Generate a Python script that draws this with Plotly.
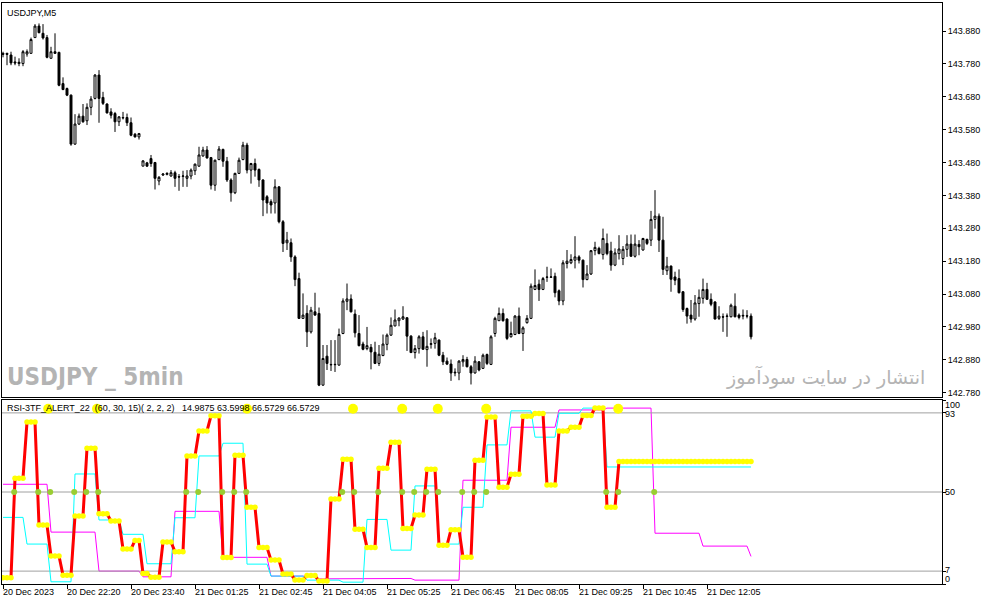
import numpy as np
import plotly.graph_objects as go

# ---------------- price data (USDJPY M5) ----------------
open_ = [
143.812, 143.812, 143.807, 143.786, 143.781, 143.781, 143.810, 143.812, 143.860, 143.895,
143.873, 143.860, 143.797, 143.817, 143.815, 143.720, 143.705, 143.685, 143.536, 143.597,
143.621, 143.607, 143.648, 143.675, 143.746, 143.678, 143.658, 143.634, 143.629, 143.604,
143.617, 143.617, 143.601, 143.566, 143.558, 143.469, 143.479, 143.492, 143.480, 143.424,
143.442, 143.444, 143.439, 143.449, 143.437, 143.438, 143.432, 143.439, 143.455, 143.469,
143.500, 143.518, 143.495, 143.411, 143.489, 143.520, 143.484, 143.427, 143.388, 143.447,
143.489, 143.533, 143.457, 143.477, 143.459, 143.427, 143.376, 143.361, 143.357, 143.406,
143.300, 143.236, 143.236, 143.193, 143.127, 143.006, 143.021, 142.965, 143.026, 143.021,
142.803, 142.891, 142.866, 142.865, 142.864, 142.960, 143.058, 143.065, 143.019, 142.960,
142.928, 142.914, 142.918, 142.903, 142.869, 142.893, 142.927, 142.955, 142.983, 142.999,
143.004, 143.008, 142.952, 142.902, 142.914, 142.950, 142.911, 142.927, 142.930, 142.940,
142.894, 142.876, 142.867, 142.840, 142.840, 142.874, 142.881, 142.859, 142.840, 142.874,
142.854, 142.896, 142.866, 142.960, 142.999, 143.021, 143.004, 142.950, 142.957, 143.013,
142.960, 142.993, 143.006, 143.094, 143.110, 143.094, 143.132, 143.131, 143.134, 143.090,
143.059, 143.173, 143.175, 143.183, 143.193, 143.183, 143.124, 143.141, 143.212, 143.219,
143.200, 143.234, 143.211, 143.168, 143.203, 143.188, 143.216, 143.232, 143.195, 143.231,
143.214, 143.246, 143.244, 143.307, 143.317, 143.244, 143.151, 143.165, 143.132, 143.127,
143.087, 143.036, 143.016, 143.004, 143.051, 143.067, 143.094, 143.064, 143.056, 143.006,
143.011, 143.012, 143.011, 143.043, 143.016, 143.013, 143.014, 143.013]

high = [
143.817, 143.814, 143.817, 143.802, 143.797, 143.822, 143.824, 143.860, 143.901, 143.903,
143.901, 143.868, 143.832, 143.873, 143.817, 143.739, 143.708, 143.687, 143.627, 143.629,
143.658, 143.660, 143.682, 143.749, 143.761, 143.695, 143.660, 143.645, 143.634, 143.621,
143.634, 143.629, 143.617, 143.570, 143.570, 143.487, 143.482, 143.503, 143.482, 143.439,
143.447, 143.450, 143.457, 143.455, 143.445, 143.455, 143.457, 143.462, 143.477, 143.528,
143.528, 143.530, 143.497, 143.489, 143.530, 143.522, 143.497, 143.432, 143.449, 143.495,
143.543, 143.540, 143.479, 143.492, 143.462, 143.429, 143.381, 143.368, 143.429, 143.408,
143.305, 143.269, 143.249, 143.198, 143.145, 143.082, 143.046, 143.041, 143.084, 143.039,
142.925, 142.925, 142.940, 142.940, 142.975, 143.067, 143.112, 143.079, 143.033, 143.016,
142.935, 142.980, 142.928, 142.935, 142.925, 142.957, 142.960, 143.009, 143.033, 143.009,
143.043, 143.009, 142.955, 142.925, 142.955, 142.965, 142.970, 142.945, 142.962, 142.942,
142.904, 142.887, 142.881, 142.854, 142.879, 142.894, 142.889, 142.864, 142.891, 142.876,
142.899, 142.899, 142.955, 143.011, 143.039, 143.036, 143.006, 142.996, 143.016, 143.039,
142.982, 143.016, 143.112, 143.155, 143.124, 143.132, 143.163, 143.158, 143.145, 143.094,
143.183, 143.214, 143.201, 143.256, 143.198, 143.185, 143.168, 143.214, 143.239, 143.224,
143.279, 143.264, 143.239, 143.219, 143.259, 143.226, 143.259, 143.261, 143.261, 143.244,
143.251, 143.249, 143.333, 143.396, 143.325, 143.315, 143.193, 143.167, 143.148, 143.155,
143.089, 143.039, 143.062, 143.077, 143.094, 143.127, 143.114, 143.082, 143.058, 143.043,
143.021, 143.021, 143.051, 143.082, 143.021, 143.033, 143.031, 143.021]

low = [
143.800, 143.776, 143.776, 143.776, 143.773, 143.773, 143.802, 143.812, 143.860, 143.873,
143.854, 143.797, 143.797, 143.812, 143.712, 143.700, 143.682, 143.531, 143.534, 143.594,
143.601, 143.594, 143.624, 143.672, 143.601, 143.655, 143.629, 143.614, 143.573, 143.591,
143.611, 143.591, 143.560, 143.556, 143.550, 143.469, 143.467, 143.467, 143.398, 143.411,
143.439, 143.441, 143.437, 143.406, 143.394, 143.406, 143.406, 143.429, 143.442, 143.467,
143.498, 143.492, 143.398, 143.394, 143.487, 143.467, 143.421, 143.361, 143.384, 143.445,
143.487, 143.447, 143.416, 143.437, 143.406, 143.317, 143.325, 143.325, 143.325, 143.295,
143.208, 143.214, 143.178, 143.104, 143.004, 143.004, 142.919, 142.960, 143.014, 142.800,
142.801, 142.849, 142.846, 142.843, 142.862, 142.958, 143.031, 143.024, 142.948, 142.921,
142.909, 142.909, 142.851, 142.867, 142.861, 142.891, 142.909, 142.953, 142.982, 142.982,
143.001, 142.907, 142.901, 142.884, 142.899, 142.911, 142.859, 142.914, 142.914, 142.891,
142.864, 142.864, 142.816, 142.830, 142.818, 142.859, 142.857, 142.805, 142.838, 142.845,
142.852, 142.864, 142.864, 142.950, 142.999, 142.996, 142.940, 142.948, 142.955, 142.958,
142.907, 142.990, 143.004, 143.092, 143.059, 143.092, 143.117, 143.130, 143.070, 143.046,
143.046, 143.158, 143.171, 143.158, 143.173, 143.100, 143.122, 143.138, 143.198, 143.201,
143.185, 143.198, 143.151, 143.165, 143.185, 143.168, 143.193, 143.193, 143.191, 143.198,
143.212, 143.229, 143.226, 143.279, 143.208, 143.138, 143.138, 143.087, 143.107, 143.082,
143.026, 142.990, 142.993, 142.999, 143.011, 143.051, 143.062, 143.043, 143.003, 143.001,
142.965, 142.950, 143.009, 143.009, 143.003, 143.003, 143.006, 142.942]

close = [
143.809, 143.809, 143.783, 143.783, 143.785, 143.817, 143.817, 143.854, 143.895, 143.875,
143.859, 143.800, 143.817, 143.812, 143.715, 143.702, 143.685, 143.536, 143.597, 143.621,
143.604, 143.648, 143.673, 143.746, 143.675, 143.660, 143.631, 143.624, 143.604, 143.619,
143.616, 143.601, 143.563, 143.558, 143.568, 143.485, 143.469, 143.477, 143.432, 143.435,
143.445, 143.447, 143.449, 143.432, 143.436, 143.439, 143.439, 143.457, 143.475, 143.503,
143.518, 143.494, 143.411, 143.487, 143.521, 143.484, 143.427, 143.388, 143.447, 143.487,
143.533, 143.457, 143.477, 143.457, 143.427, 143.366, 143.357, 143.351, 143.406, 143.300,
143.234, 143.244, 143.193, 143.124, 143.006, 143.016, 142.965, 143.031, 143.016, 142.803,
142.884, 142.869, 142.865, 142.866, 142.957, 143.059, 143.065, 143.026, 142.962, 142.923,
142.912, 142.923, 142.904, 142.869, 142.897, 142.928, 142.955, 142.985, 143.001, 143.007,
143.011, 142.952, 142.902, 142.914, 142.950, 142.912, 142.921, 142.929, 142.947, 142.894,
142.874, 142.867, 142.840, 142.842, 142.876, 142.881, 142.859, 142.840, 142.876, 142.849,
142.894, 142.869, 142.950, 143.006, 143.021, 142.999, 142.945, 142.960, 143.013, 142.960,
142.977, 143.006, 143.104, 143.106, 143.094, 143.127, 143.131, 143.132, 143.084, 143.059,
143.175, 143.180, 143.185, 143.193, 143.183, 143.124, 143.141, 143.212, 143.222, 143.203,
143.249, 143.203, 143.168, 143.205, 143.217, 143.216, 143.232, 143.195, 143.232, 143.224,
143.249, 143.234, 143.307, 143.317, 143.244, 143.155, 143.165, 143.125, 143.122, 143.084,
143.033, 143.013, 143.004, 143.053, 143.070, 143.094, 143.064, 143.049, 143.004, 143.013,
143.010, 143.013, 143.046, 143.011, 143.009, 143.015, 143.013, 142.950]

price_ticks = [142.78, 142.88, 142.98, 143.08, 143.18, 143.28, 143.38, 143.48, 143.58, 143.68, 143.78, 143.88]
price_tick_text = ["142.780", "142.880", "142.980", "143.080", "143.180", "143.280",
                   "143.380", "143.480", "143.580", "143.680", "143.780", "143.880"]

# time axis labels (bar index -> label)
time_tick_bars = [0, 16, 32, 48, 64, 80, 96, 112, 128, 144, 160, 176]
time_tick_labels = ["20 Dec 2023", "20 Dec 22:20", "20 Dec 23:40", "21 Dec 01:25", "21 Dec 02:45",
                    "21 Dec 04:05", "21 Dec 05:25", "21 Dec 06:45", "21 Dec 08:05", "21 Dec 09:25",
                    "21 Dec 10:45", "21 Dec 12:05"]

# ---------------- RSI 3TF data (values + how many M5 bars each value spans) ----------------
rsi15_vals = [3.4, 57.5, 88.0, 32.0, 15.2, 4.8, 37.0, 73.8, 38.2, 34.2, 19.0,
              23.7, 5.7,
              3.7, 22.8, 17.5, 69.6, 83.2, 91.4, 14.4, 70.0, 41.7, 19.9, 13.0, 5.4, 2.2, 4.6, 1.6,
              46.2, 67.8, 29.7, 19.9, 62.9, 77.0, 30.2, 37.5, 62.4, 21.0, 29.5, 14.5, 67.3, 90.7,
              52.6, 59.6, 91.2, 92.6, 53.8, 83.2, 85.2, 91.6, 95.6, 41.7,
              66.5729]
rsi15_runs = [3] * 11 + [2, 2] + [3] * 39 + [34]

rsi30_vals = [36.2, 21.7, 1.2, 59.8, 34.8, 27.0, 11.0, 36.0, 69.6, 76.5, 10.8, 4.3, 2.1, 1.0,
              35.1, 18.4, 53.3, 21.7, 41.7, 75.6, 94.1, 79.8, 92.8, 95.6, 63.5998]
rsi30_runs = [6, 6, 6, 6, 6, 6, 7, 6, 6, 6, 6, 9, 9, 6, 6, 6, 6, 6, 6, 6, 6, 6, 6, 6, 37]

rsi60_vals = [54.2, 28.2, 7.0, 3.9, 39.5, 14.5, 4.3, 2.8, 3.0, 2.1, 56.4, 85.2, 94.6, 95.6,
              27.6, 20.6, 14.9875]
rsi60_runs = [12, 12, 11, 8, 12, 12, 12, 12, 12, 12, 12, 12, 12, 12, 12, 12, 1]

levels = [93, 50, 7]
cross_bars = [3, 9, 12, 18, 21, 24, 46, 49, 55, 58, 61, 85, 88, 94, 100, 103, 106, 109, 115,
              118, 121, 151, 154, 163]
alert_bars = [11.3, 23.5, 61.0, 87.5, 99.8, 108.7, 120.8, 153.8]
alert_level = 95.2

header_text = ("RSI-3TF_ALERT_22\u00a0\u00a0(60, 30, 15)(\u00a02, 2, 2)\u00a0\u00a0\u00a0"
               "14.9875 63.5998 66.5729 66.5729")

# ---------------- build ----------------
n = min(len(open_), len(high), len(low), len(close))
bars = list(range(n))
rsi15 = np.repeat(rsi15_vals, rsi15_runs)[:n]
rsi30 = np.repeat(rsi30_vals, rsi30_runs)[:n]
rsi60 = np.repeat(rsi60_vals, rsi60_runs)[:n]

XR = [-0.25, 234.75]
FONT = "Liberation Sans, Arial, sans-serif"

fig = go.Figure()
fig.add_trace(go.Candlestick(
    x=bars, open=open_[:n], high=high[:n], low=low[:n], close=close[:n],
    increasing=dict(line=dict(color="black", width=1), fillcolor="white"),
    decreasing=dict(line=dict(color="black", width=1), fillcolor="black"),
    whiskerwidth=0, showlegend=False, hoverinfo="skip", xaxis="x", yaxis="y"))

# indicator lines
fig.add_trace(go.Scatter(x=bars, y=rsi60, mode="lines", line=dict(color="#ff00ff", width=1),
                         xaxis="x2", yaxis="y2", showlegend=False, hoverinfo="skip"))
for lv in levels:
    fig.add_trace(go.Scatter(x=XR, y=[lv, lv], mode="lines", line=dict(color="#a0a0a0", width=1),
                             xaxis="x2", yaxis="y2", showlegend=False, hoverinfo="skip"))
fig.add_trace(go.Scatter(x=bars, y=rsi30, mode="lines", line=dict(color="#00ffff", width=1),
                         xaxis="x2", yaxis="y2", showlegend=False, hoverinfo="skip"))
fig.add_trace(go.Scatter(x=bars, y=rsi15, mode="lines", line=dict(color="#ff0000", width=3),
                         xaxis="x2", yaxis="y2", showlegend=False, hoverinfo="skip"))
fig.add_trace(go.Scatter(x=bars, y=rsi15, mode="markers",
                         marker=dict(color="#ffff00", size=5.5, line=dict(width=0)),
                         xaxis="x2", yaxis="y2", showlegend=False, hoverinfo="skip"))
fig.add_trace(go.Scatter(x=[b - 0.2 for b in cross_bars], y=[50] * len(cross_bars), mode="markers",
                         marker=dict(color="#9acd32", size=6, line=dict(width=0)),
                         xaxis="x2", yaxis="y2", showlegend=False, hoverinfo="skip"))
fig.add_trace(go.Scatter(x=alert_bars, y=[alert_level] * len(alert_bars), mode="markers",
                         marker=dict(color="#ffff00", size=10, line=dict(width=0)),
                         xaxis="x2", yaxis="y2", showlegend=False, hoverinfo="skip"))

price_dom = [(584 - 397) / 581, 1.0]
ind_dom = [0.0, (584 - 400) / 581]

fig.update_layout(
    width=987, height=605,
    margin=dict(l=2, r=45, t=3, b=21),
    paper_bgcolor="white", plot_bgcolor="white",
    font=dict(family=FONT, size=9, color="black"),
    xaxis=dict(domain=[0, 1], range=XR, anchor="y", showgrid=False, zeroline=False,
               showline=True, mirror=True, linecolor="black", linewidth=1,
               ticks="", showticklabels=False, rangeslider=dict(visible=False)),
    yaxis=dict(domain=price_dom, range=[142.7669, 143.9652], anchor="x", side="right",
               tickmode="array", tickvals=price_ticks, ticktext=price_tick_text,
               ticks="outside", ticklen=3,
               tickcolor="black", showgrid=False, zeroline=False, showline=True, mirror=True,
               linecolor="black", linewidth=1, tickfont=dict(family=FONT, size=9, color="black")),
    xaxis2=dict(domain=[0, 1], range=XR, anchor="y2", showgrid=False, zeroline=False,
                showline=True, mirror=True, linecolor="black", linewidth=1,
                tickvals=time_tick_bars, ticks="outside", ticklen=4, tickcolor="black",
                showticklabels=False),
    yaxis2=dict(domain=ind_dom, range=[0, 100], anchor="x2", side="right",
                tickvals=[0, 7, 50, 93, 100], ticks="outside", ticklen=3, tickcolor="black",
                showticklabels=False, showgrid=False, zeroline=False, showline=True, mirror=True,
                linecolor="black", linewidth=1),
)

ann = []
ann.append(dict(text="USDJPY,M5", xref="paper", yref="paper", x=0, y=1, xanchor="left",
                yanchor="top", xshift=3, yshift=-3, showarrow=False, font=dict(size=9)))
ann.append(dict(text="<b>USDJPY _ 5min</b>", xref="x domain", yref="y domain", x=0, y=0.05,
                xanchor="left", yanchor="middle", xshift=3, showarrow=False,
                font=dict(family="DejaVu Sans Condensed, Liberation Sans Narrow, sans-serif",
                          size=24, color="#b4b4b4")))
ann.append(dict(text="انتشار در سایت سودآموز", xref="x domain", yref="y domain", x=0.984, y=0.05,
                xanchor="right", yanchor="middle", showarrow=False,
                font=dict(family="DejaVu Sans, sans-serif", size=19, color="#b4b4b4")))
ann.append(dict(text=header_text, xref="x2 domain", yref="y2 domain", x=0, y=(584 - 408) / 184,
                xanchor="left", yanchor="middle", xshift=3, showarrow=False, font=dict(size=9)))
for lbl, val, ys in [("100", 100, -5), ("93", 93, -1), ("50", 50, 0), ("7", 7, 1), ("0", 0, 5)]:
    ann.append(dict(text=lbl, xref="paper", yref="y2", x=1, y=val, xanchor="left", yanchor="middle",
                    xshift=1, yshift=ys, showarrow=False, font=dict(size=9)))
for b, lbl in zip(time_tick_bars, time_tick_labels):
    ann.append(dict(text=lbl, xref="x2", yref="paper", x=b, y=0, xanchor="left", yanchor="top",
                    xshift=-2, yshift=-1, showarrow=False, font=dict(size=9)))
fig.update_layout(annotations=ann)

fig.write_html("out.html", config={"displayModeBar": False},
               post_script="document.body.style.margin='0';document.body.style.padding='0';")
